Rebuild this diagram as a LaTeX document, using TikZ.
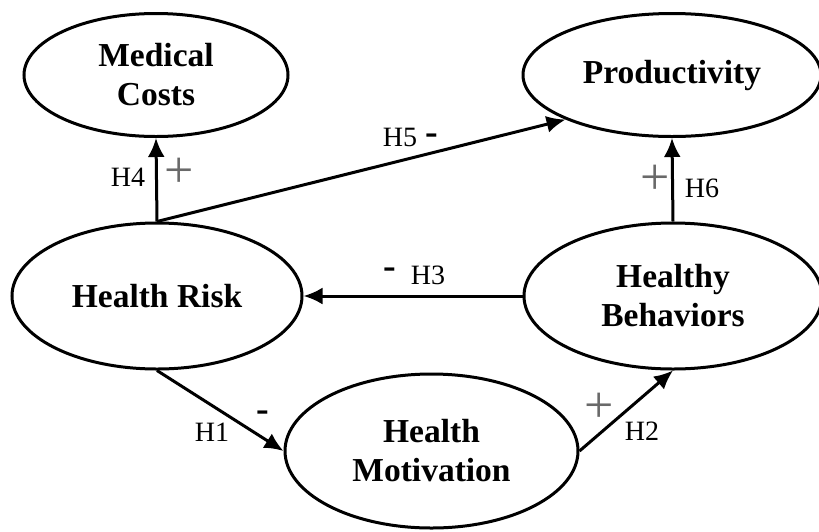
\documentclass[tikz,border=0pt]{standalone}
\usepackage{fontspec}
\setmainfont{Liberation Serif}
\usetikzlibrary{shapes,arrows.meta}
\definecolor{signgray}{RGB}{105,105,105}

\begin{document}
\begin{tikzpicture} [x=1pt, y=-1pt, >={Latex[length=19pt,width=17pt]}, line width=3pt]
            % Set primary nodes
            \tikzset{
                construct/.style={
                        draw,
                        ellipse,
                        inner sep=0pt,
                        align=center,
                        font=\fontsize{33.5}{39}\selectfont\bfseries
                    }
            }
            \tikzset{
                hypLabel/.style={
                        inner sep=0pt,
                        font=\fontsize{28}{30}\selectfont
                    }
            }
            \tikzset{
                plusSign/.style={
                        inner sep=0pt,
                        text=signgray,
                        font=\fontsize{52}{52}\selectfont
                    }
            }
            \tikzset{
                minusSign/.style={
                        inner sep=0pt,
                        font=\fontsize{38}{38}\selectfont\bfseries
                    }
            }
            \useasboundingbox (0,0) rectangle (819,531);
            % Placing nodes
            \node[construct, minimum width=264pt, minimum height=123pt](mcost) at (156,75){Medical\\Costs};
            \node[construct, minimum width=298pt, minimum height=123pt](prod) at (672,75){Productivity};
            \node[construct, minimum width=290pt, minimum height=146pt](hrisk) at (157,296){Health Risk};
            \node[construct, minimum width=298pt, minimum height=146pt](hbeh) at (673,296){Healthy\\Behaviors};
            \node[construct, minimum width=293pt, minimum height=154pt](hmot) at (431.5,451){Health\\Motivation};
            % Placing arrows
            \draw(hrisk.north) edge[->] (mcost.south);
            \draw(hrisk.north) edge[->] (prod.south west);
            \draw(hbeh.north) edge[->] (prod.south);
            \draw(hbeh.west) edge[->] (hrisk.east);
            \draw(hrisk.south) edge[->] (hmot.west);
            \draw(hmot.east) edge[->] (hbeh.south);
            % Placing labels
            \node[hypLabel](h1) at (212,432){H1};
            \node[hypLabel](h2) at (642,431){H2};
            \node[hypLabel](h3) at (428,275){H3};
            \node[hypLabel](h4) at (128,177){H4};
            \node[hypLabel](h5) at (400,137){H5};
            \node[hypLabel](h6) at (702,188){H6};
            \node[minusSign](s1) at (263,416){-};
            \node[plusSign](s2) at (599,408){+};
            \node[minusSign](s3) at (390,273){-};
            \node[plusSign](s4) at (179,173){+};
            \node[minusSign](s5) at (432,139){-};
            \node[plusSign](s6) at (655,180){+};
        \end{tikzpicture}
\end{document}
